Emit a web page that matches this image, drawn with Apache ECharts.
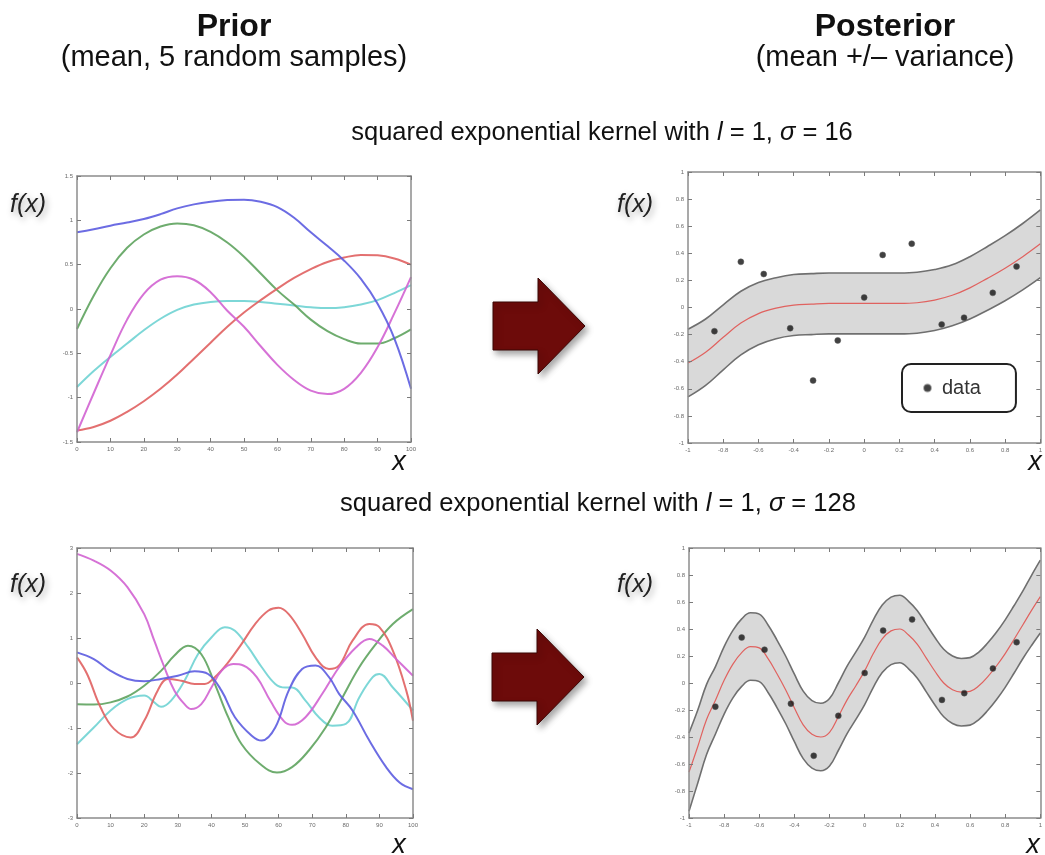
<!DOCTYPE html>
<html>
<head>
<meta charset="utf-8">
<script src="https://cdn.jsdelivr.net/npm/echarts@6/dist/echarts.min.js"></script>
<style>
  html, body { margin: 0; padding: 0; background: #ffffff; }
  #chart { width: 1045px; height: 855px; }
</style>
</head>
<body>
<div id="chart"></div>
<script>
// ---- Prior, sigma = 16: five random samples on x = 0..100 ----
const priorX = [0, 5, 10, 15, 20, 25, 30, 35, 40, 45, 50, 55, 60, 65, 70, 75, 80, 85, 90, 95, 100];
const priorBlue    = [0.865, 0.90, 0.94, 0.975, 1.015, 1.07, 1.135, 1.18, 1.21, 1.228, 1.233, 1.21, 1.15, 1.03, 0.865, 0.71, 0.545, 0.34, 0.06, -0.33, -0.90];
const priorGreen   = [-0.225, 0.15, 0.46, 0.69, 0.84, 0.93, 0.965, 0.945, 0.87, 0.75, 0.59, 0.40, 0.21, 0.05, -0.12, -0.25, -0.34, -0.39, -0.39, -0.33, -0.23];
const priorMagenta = [-1.39, -0.95, -0.52, -0.12, 0.17, 0.33, 0.37, 0.33, 0.19, -0.02, -0.20, -0.42, -0.63, -0.80, -0.92, -0.96, -0.90, -0.72, -0.43, -0.05, 0.36];
const priorCyan    = [-0.88, -0.70, -0.54, -0.39, -0.24, -0.11, -0.01, 0.05, 0.08, 0.09, 0.09, 0.08, 0.06, 0.04, 0.02, 0.01, 0.02, 0.05, 0.10, 0.18, 0.27];
const priorRed     = [-1.37, -1.33, -1.26, -1.16, -1.04, -0.90, -0.74, -0.56, -0.38, -0.20, -0.04, 0.10, 0.23, 0.35, 0.45, 0.53, 0.58, 0.61, 0.605, 0.57, 0.50];

// ---- Prior, sigma = 128: five random samples, [x, f(x)] ----
const wigglyMagenta = [[0,2.87],[5,2.72],[10,2.5],[15,2.13],[20,1.53],[23,0.94],[26,0.35],[29,-0.17],[32,-0.47],[34,-0.58],[37,-0.47],[40,-0.1],[43,0.27],[46.5,0.42],[49.5,0.39],[53.5,0.13],[57.5,-0.39],[61.5,-0.84],[64,-0.93],[68,-0.76],[73,-0.24],[78,0.35],[83,0.79],[87,0.98],[91,0.83],[95,0.53],[100,0.16]];
const wigglyRed = [[0,0.57],[3,0.2],[7,-0.54],[11,-1.02],[16,-1.21],[20,-0.84],[24,-0.17],[27,0.09],[31,0.05],[35,-0.02],[38,-0.02],[41,0.13],[45,0.46],[49,0.87],[53,1.31],[57,1.61],[60,1.67],[63,1.53],[67,1.09],[71,0.57],[75,0.31],[78,0.39],[82,0.94],[87,1.31],[90,1.24],[94,0.72],[98,-0.17],[100,-0.84]];
const wigglyBlue = [[0,0.68],[5,0.53],[10,0.27],[15,0.09],[20,0.04],[25,0.09],[30,0.16],[35,0.26],[39,0.2],[43,-0.17],[47,-0.76],[52,-1.17],[55,-1.28],[59,-0.99],[63,-0.17],[67,0.31],[71,0.39],[75,0.13],[78,-0.24],[82,-0.61],[87,-1.28],[92,-1.87],[96,-2.21],[100,-2.36]];
const wigglyGreen = [[0,-0.47],[5,-0.48],[10,-0.43],[15,-0.3],[20,-0.06],[25,0.27],[29,0.61],[33,0.83],[37,0.64],[41,-0.02],[45,-0.76],[49,-1.36],[54.5,-1.8],[59.5,-1.99],[64,-1.87],[69,-1.5],[74,-0.99],[79,-0.32],[84,0.35],[89,0.87],[94,1.31],[100,1.64]];
const wigglyCyan = [[0,-1.36],[5,-0.99],[10,-0.61],[15,-0.36],[20,-0.28],[23,-0.43],[25,-0.53],[28,-0.39],[32,0.05],[36,0.64],[40,1.01],[44,1.24],[47,1.16],[51,0.79],[55,0.35],[59,-0.02],[62,-0.1],[64,-0.1],[68,-0.39],[72,-0.76],[76,-0.95],[80,-0.91],[84,-0.32],[88,0.13],[90,0.2],[94,-0.1],[100,-0.61]];

// ---- Observations shared by both posteriors ----
const dataX = [-0.85, -0.70, -0.57, -0.42, -0.29, -0.15, 0.0, 0.105, 0.27, 0.44, 0.567, 0.73, 0.865];
const dataY = [-0.175, 0.337, 0.247, -0.153, -0.539, -0.243, 0.074, 0.388, 0.471, -0.125, -0.075, 0.108, 0.302];

// ---- Posterior, sigma = 16: mean and spread ----
const postX1 = [-1, -0.9, -0.8, -0.7, -0.6, -0.5, -0.4, -0.3, -0.2, -0.1, 0, 0.1, 0.2, 0.3, 0.4, 0.5, 0.6, 0.7, 0.8, 0.9, 1];
const postMean1 = [-0.41, -0.33, -0.22, -0.115, -0.045, -0.005, 0.018, 0.025, 0.03, 0.03, 0.03, 0.03, 0.03, 0.035, 0.055, 0.09, 0.145, 0.215, 0.29, 0.375, 0.47];
const postSpread1 = [0.25, 0.245, 0.24, 0.235, 0.23, 0.225, 0.225, 0.225, 0.225, 0.225, 0.225, 0.225, 0.225, 0.225, 0.225, 0.225, 0.23, 0.235, 0.24, 0.245, 0.25];

// ---- Posterior, sigma = 128: mean and spread ----
const postX2 = [-1, -0.95, -0.9, -0.85, -0.8, -0.75, -0.7, -0.65, -0.6, -0.55, -0.5, -0.45, -0.4, -0.35, -0.3, -0.25, -0.2, -0.15, -0.1, -0.05, 0, 0.05, 0.1, 0.15, 0.2, 0.25, 0.3, 0.35, 0.4, 0.45, 0.5, 0.55, 0.6, 0.65, 0.7, 0.75, 0.8, 0.85, 0.9, 0.95, 1];
const postMean2 = [-0.66, -0.47, -0.27, -0.13, 0.02, 0.14, 0.225, 0.27, 0.26, 0.18, 0.07, -0.05, -0.185, -0.31, -0.38, -0.40, -0.365, -0.25, -0.125, -0.02, 0.09, 0.22, 0.327, 0.386, 0.40, 0.355, 0.286, 0.186, 0.087, 0.0, -0.05, -0.068, -0.062, -0.021, 0.046, 0.126, 0.218, 0.322, 0.43, 0.538, 0.64];
const postSpread2 = [0.29, 0.27, 0.26, 0.25, 0.25, 0.25, 0.25, 0.25, 0.25, 0.25, 0.25, 0.25, 0.25, 0.25, 0.25, 0.25, 0.25, 0.25, 0.25, 0.25, 0.25, 0.25, 0.25, 0.25, 0.25, 0.25, 0.25, 0.25, 0.25, 0.25, 0.25, 0.25, 0.25, 0.25, 0.25, 0.25, 0.25, 0.25, 0.25, 0.26, 0.27];

// ---- Tick settings ----
const priorXRange = [0, 100, 10];
const priorYRange1 = [-1.5, 1.5, 0.5];
const priorYRange2 = [-3, 3, 1];
const postRange = [-1, 1, 0.2];

const FONT = '"Liberation Sans", Arial, Helvetica, sans-serif';
const COLORS = {
  blue: '#5c5ce0', green: '#5ea35e', magenta: '#d163d1', cyan: '#6fd3d3', red: '#e06060'
};

function zipXY(xs, ys) { return xs.map((x, i) => [x, ys[i]]); }

// Boxed axes: labelled bottom/left axis plus an unlabelled mirror on top/right
function axisPair(kind, grid, range) {
  const base = {
    gridIndex: grid, type: 'value', min: range[0], max: range[1], interval: range[2], z: 10,
    axisLine: { show: true, onZero: false, lineStyle: { color: '#8c8c8c', width: 1.5 } },
    axisTick: { show: true, inside: true, length: 4, lineStyle: { color: '#7a7a7a', width: 1 } },
    splitLine: { show: false }
  };
  const main = Object.assign({}, base, {
    position: kind === 'x' ? 'bottom' : 'left',
    axisLabel: { show: true, fontSize: 6, color: '#6a6a6a', fontFamily: FONT, margin: 4, hideOverlap: false }
  });
  const mirror = Object.assign({}, base, {
    position: kind === 'x' ? 'top' : 'right',
    axisLabel: { show: false }
  });
  return [main, mirror];
}

const grids = [
  { left: 77, top: 176, width: 334, height: 266 },   // prior, sigma 16
  { left: 688, top: 172, width: 359, height: 271 },  // posterior, sigma 16
  { left: 77, top: 548, width: 336, height: 270 },   // prior, sigma 128
  { left: 689, top: 548, width: 358, height: 270 }   // posterior, sigma 128
];

const xAxes = [].concat(
  axisPair('x', 0, priorXRange), axisPair('x', 1, postRange),
  axisPair('x', 2, priorXRange), axisPair('x', 3, postRange)
);
const yAxes = [].concat(
  axisPair('y', 0, priorYRange1), axisPair('y', 1, postRange),
  axisPair('y', 2, priorYRange2), axisPair('y', 3, postRange)
);

function sampleLine(grid, data, color) {
  return {
    type: 'line', xAxisIndex: grid * 2, yAxisIndex: grid * 2, data: data,
    smooth: 0.4, symbol: 'none', silent: true, z: 2,
    lineStyle: { color: color, width: 2, opacity: 0.9 }
  };
}

function posteriorSeries(grid, xs, mean, spread) {
  const upper = xs.map((x, i) => [x, mean[i] + spread[i]]);
  const lower = xs.map((x, i) => [x, mean[i] - spread[i]]);
  const edge = { color: '#6f6f6f', width: 1.6 };
  return [
    { type: 'line', xAxisIndex: grid * 2, yAxisIndex: grid * 2, data: upper, smooth: 0.4, symbol: 'none', silent: true, z: 2,
      lineStyle: edge, areaStyle: { color: '#d9d9d9', opacity: 1, origin: 'start' } },
    { type: 'line', xAxisIndex: grid * 2, yAxisIndex: grid * 2, data: lower, smooth: 0.4, symbol: 'none', silent: true, z: 3,
      lineStyle: edge, areaStyle: { color: '#ffffff', opacity: 1, origin: 'start' } },
    { type: 'line', xAxisIndex: grid * 2, yAxisIndex: grid * 2, data: zipXY(xs, mean), smooth: 0.4, symbol: 'none', silent: true, z: 4,
      lineStyle: { color: '#e0625f', width: 1.2 } },
    { type: 'scatter', name: 'data', xAxisIndex: grid * 2, yAxisIndex: grid * 2, data: zipXY(dataX, dataY), symbol: 'circle', symbolSize: 6, z: 5,
      itemStyle: { color: '#111111', borderColor: 'rgba(90,90,90,0.6)', borderWidth: 1 } }
  ];
}

const series = [
  sampleLine(0, zipXY(priorX, priorCyan), COLORS.cyan),
  sampleLine(0, zipXY(priorX, priorGreen), COLORS.green),
  sampleLine(0, zipXY(priorX, priorRed), COLORS.red),
  sampleLine(0, zipXY(priorX, priorMagenta), COLORS.magenta),
  sampleLine(0, zipXY(priorX, priorBlue), COLORS.blue),
  sampleLine(2, wigglyCyan, COLORS.cyan),
  sampleLine(2, wigglyGreen, COLORS.green),
  sampleLine(2, wigglyRed, COLORS.red),
  sampleLine(2, wigglyMagenta, COLORS.magenta),
  sampleLine(2, wigglyBlue, COLORS.blue)
].concat(
  posteriorSeries(1, postX1, postMean1, postSpread1),
  posteriorSeries(3, postX2, postMean2, postSpread2)
);

// Block arrows between prior and posterior
function arrowPoints(x0, yMid) {
  return [[x0, yMid - 24], [x0 + 45, yMid - 24], [x0 + 45, yMid - 48], [x0 + 92, yMid], [x0 + 45, yMid + 48], [x0 + 45, yMid + 24], [x0, yMid + 24]];
}
function arrow(x0, yMid) {
  return {
    type: 'polygon', z: 20, silent: true,
    shape: { points: arrowPoints(x0, yMid) },
    style: { fill: '#6d0b0a', stroke: '#3a0605', lineWidth: 1, shadowBlur: 6, shadowOffsetX: 3, shadowOffsetY: 4, shadowColor: 'rgba(0,0,0,0.35)' }
  };
}

function label(text, x, y, font, align, extra) {
  return {
    type: 'text', z: 30, silent: true,
    style: Object.assign({ text: text, x: x, y: y, font: font, fill: '#111', textAlign: align || 'center', textVerticalAlign: 'middle' }, extra || {})
  };
}
const fxShadow = { textShadowBlur: 6, textShadowColor: 'rgba(0,0,0,0.35)', textShadowOffsetX: 2, textShadowOffsetY: 3, fill: '#222' };

function kernelText(sigma, x, y) {
  return {
    type: 'text', z: 30, silent: true,
    style: {
      text: 'squared exponential kernel with {i|l} = 1, {i|σ} = ' + sigma,
      x: x, y: y, fontSize: 25.5, fontFamily: FONT, fill: '#111', textAlign: 'center', textVerticalAlign: 'middle',
      rich: { i: { fontStyle: 'italic', fontSize: 25.5, fontFamily: FONT, fill: '#111' } }
    }
  };
}

const graphics = [
  label('Prior', 234, 27, 'bold 32px ' + FONT),
  label('(mean, 5 random samples)', 234, 58, '29px ' + FONT),
  label('Posterior', 885, 27, 'bold 32px ' + FONT),
  label('(mean +/\u2013 variance)', 885, 58, '29px ' + FONT),
  kernelText(16, 602, 133),
  kernelText(128, 598, 504),
  label('f(x)', 10, 205, 'italic 25px ' + FONT, 'left', fxShadow),
  label('f(x)', 617, 205, 'italic 25px ' + FONT, 'left', fxShadow),
  label('f(x)', 10, 585, 'italic 25px ' + FONT, 'left', fxShadow),
  label('f(x)', 617, 585, 'italic 25px ' + FONT, 'left', fxShadow),
  label('x', 399, 462, 'italic 27px ' + FONT),
  label('x', 1035, 462, 'italic 27px ' + FONT),
  label('x', 399, 845, 'italic 27px ' + FONT),
  label('x', 1033, 845, 'italic 27px ' + FONT),
  arrow(493, 326),
  arrow(492, 677)
];

const chart = echarts.init(document.getElementById('chart'), null, { renderer: 'canvas' });
chart.setOption({
  animation: false,
  backgroundColor: '#ffffff',
  grid: grids,
  xAxis: xAxes,
  yAxis: yAxes,
  legend: {
    data: ['data'], left: 902, top: 364, orient: 'horizontal', selectedMode: false,
    icon: 'circle', itemWidth: 7, itemHeight: 7,
    borderColor: '#222', borderWidth: 2, borderRadius: 9, backgroundColor: '#ffffff',
    padding: [14, 35, 14, 21],
    textStyle: { fontSize: 20, color: '#333', fontFamily: FONT, padding: [0, 0, 0, 6] }
  },
  series: series,
  graphic: graphics
});
</script>
</body>
</html>
